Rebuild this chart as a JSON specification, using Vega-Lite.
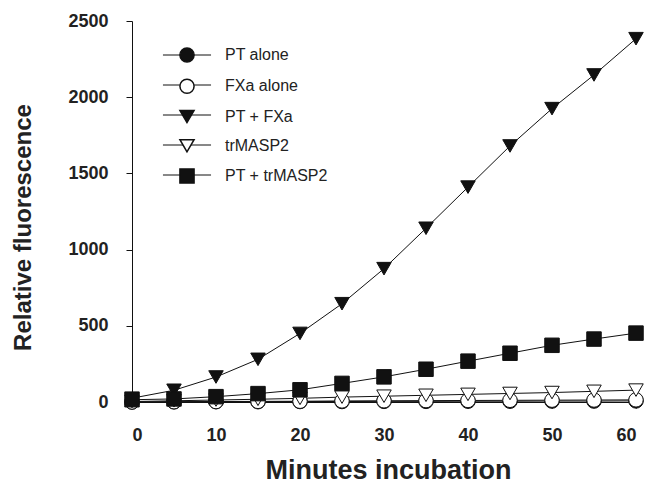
{
  "$schema": "https://vega.github.io/schema/vega-lite/v6.json",
  "autosize": {"type": "none"},
  "padding": {"left": 132, "top": 21, "right": 11, "bottom": 96},
  "width": 504,
  "height": 381,
  "config": {
    "view": {"stroke": null},
    "font": "Liberation Sans",
    "axis": {"grid": false, "domainColor": "#111", "tickColor": "#111", "labelColor": "#222", "titleColor": "#222", "labelFont": "Liberation Sans", "titleFont": "Liberation Sans"}
  },
  "data": {
    "values": [
      {"t": 0, "s": "PT alone", "v": 0}, {"t": 5, "s": "PT alone", "v": 1}, {"t": 10, "s": "PT alone", "v": 2}, {"t": 15, "s": "PT alone", "v": 2}, {"t": 20, "s": "PT alone", "v": 3}, {"t": 25, "s": "PT alone", "v": 3}, {"t": 30, "s": "PT alone", "v": 4}, {"t": 35, "s": "PT alone", "v": 4}, {"t": 40, "s": "PT alone", "v": 5}, {"t": 45, "s": "PT alone", "v": 5}, {"t": 50, "s": "PT alone", "v": 6}, {"t": 55, "s": "PT alone", "v": 6}, {"t": 60, "s": "PT alone", "v": 7},
      {"t": 0, "s": "FXa alone", "v": 0}, {"t": 5, "s": "FXa alone", "v": 2}, {"t": 10, "s": "FXa alone", "v": 3}, {"t": 15, "s": "FXa alone", "v": 4}, {"t": 20, "s": "FXa alone", "v": 5}, {"t": 25, "s": "FXa alone", "v": 7}, {"t": 30, "s": "FXa alone", "v": 8}, {"t": 35, "s": "FXa alone", "v": 9}, {"t": 40, "s": "FXa alone", "v": 10}, {"t": 45, "s": "FXa alone", "v": 11}, {"t": 50, "s": "FXa alone", "v": 12}, {"t": 55, "s": "FXa alone", "v": 13}, {"t": 60, "s": "FXa alone", "v": 14},
      {"t": 0, "s": "PT + FXa", "v": 25}, {"t": 5, "s": "PT + FXa", "v": 77}, {"t": 10, "s": "PT + FXa", "v": 164}, {"t": 15, "s": "PT + FXa", "v": 280}, {"t": 20, "s": "PT + FXa", "v": 450}, {"t": 25, "s": "PT + FXa", "v": 645}, {"t": 30, "s": "PT + FXa", "v": 875}, {"t": 35, "s": "PT + FXa", "v": 1140}, {"t": 40, "s": "PT + FXa", "v": 1410}, {"t": 45, "s": "PT + FXa", "v": 1680}, {"t": 50, "s": "PT + FXa", "v": 1925}, {"t": 55, "s": "PT + FXa", "v": 2146}, {"t": 60, "s": "PT + FXa", "v": 2384},
      {"t": 0, "s": "trMASP2", "v": 3}, {"t": 5, "s": "trMASP2", "v": 8}, {"t": 10, "s": "trMASP2", "v": 13}, {"t": 15, "s": "trMASP2", "v": 18}, {"t": 20, "s": "trMASP2", "v": 24}, {"t": 25, "s": "trMASP2", "v": 32}, {"t": 30, "s": "trMASP2", "v": 38}, {"t": 35, "s": "trMASP2", "v": 44}, {"t": 40, "s": "trMASP2", "v": 50}, {"t": 45, "s": "trMASP2", "v": 56}, {"t": 50, "s": "trMASP2", "v": 62}, {"t": 55, "s": "trMASP2", "v": 70}, {"t": 60, "s": "trMASP2", "v": 78},
      {"t": 0, "s": "PT + trMASP2", "v": 15}, {"t": 5, "s": "PT + trMASP2", "v": 20}, {"t": 10, "s": "PT + trMASP2", "v": 35}, {"t": 15, "s": "PT + trMASP2", "v": 55}, {"t": 20, "s": "PT + trMASP2", "v": 80}, {"t": 25, "s": "PT + trMASP2", "v": 122}, {"t": 30, "s": "PT + trMASP2", "v": 165}, {"t": 35, "s": "PT + trMASP2", "v": 215}, {"t": 40, "s": "PT + trMASP2", "v": 268}, {"t": 45, "s": "PT + trMASP2", "v": 320}, {"t": 50, "s": "PT + trMASP2", "v": 372}, {"t": 55, "s": "PT + trMASP2", "v": 413}, {"t": 60, "s": "PT + trMASP2", "v": 452}
    ]
  },
  "encoding": {
    "x": {
      "field": "t", "type": "quantitative",
      "scale": {"domain": [0, 60], "nice": false},
      "axis": {"values": [0, 10, 20, 30, 40, 50, 60], "format": "d", "title": "Minutes incubation", "labelFontSize": 18, "labelFontWeight": "bold", "tickSize": 6, "labelPadding": 18, "titleFontSize": 27, "titleFontWeight": "bold", "titleX": 256, "titleY": 76, "titleBaseline": "alphabetic", "titleAnchor": "middle", "titleAlign": "center"}
    },
    "y": {
      "field": "v", "type": "quantitative",
      "scale": {"domain": [0, 2500], "nice": false},
      "axis": {"values": [0, 500, 1000, 1500, 2000, 2500], "format": "d", "title": "Relative fluorescence", "labelFontSize": 18, "labelFontWeight": "bold", "tickSize": 6, "labelPadding": 18, "titleFontSize": 24, "titleFontWeight": "bold", "titleAngle": 270, "titleX": -102, "titleY": 206, "titleBaseline": "alphabetic", "titleAlign": "center"}
    }
  },
  "layer": [
    {
      "mark": {"type": "line", "strokeWidth": 1},
      "encoding": {
        "stroke": {
          "field": "s", "type": "nominal",
          "sort": null,
          "scale": {"range": ["#111", "#111", "#111", "#111", "#111"]},
          "legend": {"orient": "none", "legendX": 47, "legendY": 26, "title": null, "symbolType": "M-3.4,0H3.4", "symbolSize": 200, "symbolStrokeWidth": 1, "symbolFillColor": "transparent", "labelOpacity": 0, "labelFontSize": 16, "labelOffset": 30, "rowPadding": 14.0, "padding": 0, "zindex": 1}
        }
      }
    },
    {
      "mark": {"type": "point", "filled": true, "size": 210, "stroke": "#111", "strokeWidth": 1, "opacity": 1},
      "encoding": {
        "shape": {
          "field": "s", "type": "nominal",
          "scale": {"domain": ["PT alone", "FXa alone", "PT + FXa", "trMASP2", "PT + trMASP2"], "range": ["circle", "circle", "triangle-down", "triangle-down", "square"]},
          "legend": {"orient": "none", "legendX": 47, "legendY": 26, "title": null, "symbolSize": 200, "labelFontSize": 16, "labelColor": "#222", "labelOffset": 30, "rowPadding": 9.25, "padding": 0, "zindex": 2,
            "encode": {"symbols": {"update": {"fill": {"scale": "fill", "field": "value"}, "stroke": {"value": "#111"}, "strokeWidth": {"value": 1}, "opacity": {"value": 1}}}}}
        },
        "fill": {
          "field": "s", "type": "nominal",
          "scale": {"domain": ["PT alone", "FXa alone", "PT + FXa", "trMASP2", "PT + trMASP2"], "range": ["#111", "white", "#111", "white", "#111"]},
          "legend": null
        }
      }
    }
  ]
}
